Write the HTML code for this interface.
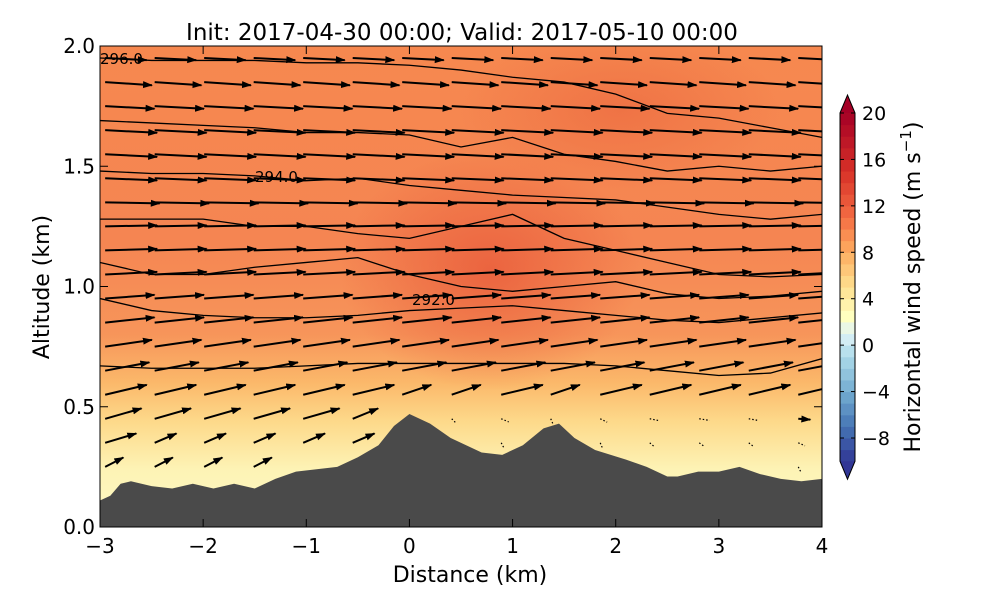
<!DOCTYPE html>
<html><head><meta charset="utf-8"><style>
body{margin:0;background:#fff;font-family:"Liberation Sans","DejaVu Sans",sans-serif}
svg text{font-family:"DejaVu Sans","Liberation Sans",sans-serif}
</style></head><body>
<svg id="c" width="1000" height="600" xmlns="http://www.w3.org/2000/svg">
<defs>
<linearGradient id="bg" x1="0" y1="1" x2="0" y2="0">
<stop offset="0" stop-color="#fdf9c4"/>
<stop offset="0.12" stop-color="#fdf3b5"/>
<stop offset="0.22" stop-color="#fdd98a"/>
<stop offset="0.30" stop-color="#fbb86a"/>
<stop offset="0.40" stop-color="#f7955a"/>
<stop offset="0.6" stop-color="#f58552"/>
<stop offset="1" stop-color="#f6884f"/>
</linearGradient>
<radialGradient id="blob" cx="0.5" cy="0.5" r="0.5">
<stop offset="0" stop-color="#e85a3a" stop-opacity="0.8"/>
<stop offset="1" stop-color="#e85a3a" stop-opacity="0"/>
</radialGradient>
<radialGradient id="blob2" cx="0.5" cy="0.5" r="0.5">
<stop offset="0" stop-color="#ec6a40" stop-opacity="0.7"/>
<stop offset="1" stop-color="#ec6a40" stop-opacity="0"/>
</radialGradient>
<clipPath id="pc"><rect x="100" y="46" width="722" height="481"/></clipPath>
<marker id="ah" markerWidth="10" markerHeight="8" refX="9" refY="4" orient="auto" markerUnits="userSpaceOnUse"><path d="M0,0.5 L10,4 L0,7.5 z" fill="#000"/></marker>
</defs>
<text x="462" y="40" font-size="23" text-anchor="middle">Init: 2017-04-30 00:00; Valid: 2017-05-10 00:00</text>
<g clip-path="url(#pc)" id="plot">
<rect x="100" y="46" width="722" height="481" fill="url(#bg)"/>
<ellipse cx="490" cy="270" rx="150" ry="120" fill="url(#blob)"/>
<ellipse cx="620" cy="110" rx="160" ry="80" fill="url(#blob2)"/>
<g id="contours"></g>
<g id="arrows"></g>
<path id="terrain" fill="#4a4a4a"/>
</g>
<rect x="100" y="46" width="722" height="481" fill="none" stroke="#000" stroke-width="1"/>
<g id="axes"></g>
<g id="cbar"></g>
<text x="470" y="582" font-size="22" text-anchor="middle">Distance (km)</text>
<text transform="translate(49,287) rotate(-90)" font-size="22" text-anchor="middle">Altitude (km)</text>
<text transform="translate(920,287) rotate(-90)" font-size="22" text-anchor="middle">Horizontal wind speed (m s<tspan baseline-shift="super" font-size="15">−1</tspan>)</text>
</svg>
<script>
const xTicks=[-3,-2,-1,0,1,2,3,4];
const yTicks=[0.0,0.5,1.0,1.5,2.0];
const cbTicks=[20,16,12,8,4,0,-4,-8];
const terrX=[-3,-2.9,-2.8,-2.7,-2.5,-2.3,-2.1,-1.9,-1.7,-1.5,-1.3,-1.1,-0.9,-0.7,-0.5,-0.3,-0.15,0,0.2,0.4,0.7,0.9,1.1,1.3,1.45,1.6,1.8,2.1,2.3,2.5,2.6,2.8,3.0,3.2,3.4,3.6,3.8,4];
const terrZ=[0.11,0.13,0.18,0.19,0.17,0.16,0.18,0.16,0.18,0.16,0.2,0.23,0.24,0.25,0.29,0.34,0.42,0.47,0.43,0.37,0.31,0.3,0.34,0.41,0.43,0.37,0.32,0.28,0.25,0.21,0.21,0.23,0.23,0.25,0.22,0.2,0.19,0.2];
const contX=[-3,-2.5,-2,-1.5,-1,-0.5,0,0.5,1,1.5,2,2.5,3,3.5,4];
const cont1=[0.67,0.66,0.66,0.66,0.67,0.68,0.68,0.68,0.68,0.68,0.67,0.65,0.63,0.64,0.7];
const cont2=[0.95,0.9,0.88,0.87,0.87,0.88,0.9,0.91,0.92,0.9,0.88,0.86,0.85,0.87,0.89];
const cont3=[1.1,1.05,1.05,1.08,1.1,1.12,1.05,1.0,0.98,1.0,1.02,0.97,0.95,0.96,0.98];
const cont4=[1.28,1.28,1.28,1.25,1.25,1.22,1.2,1.25,1.3,1.2,1.15,1.1,1.05,1.04,1.05];
const cont5=[1.48,1.47,1.47,1.46,1.44,1.45,1.42,1.4,1.38,1.37,1.36,1.33,1.3,1.28,1.3];
const cont6=[1.69,1.68,1.67,1.66,1.64,1.64,1.63,1.58,1.62,1.55,1.52,1.48,1.5,1.48,1.5];
const cont7=[1.95,1.94,1.94,1.94,1.93,1.93,1.92,1.9,1.87,1.85,1.8,1.72,1.7,1.66,1.62];
const contLabels=["296.0","294.0","292.0"];
const rowZ=[0.25,0.35,0.45,0.55,0.65,0.75,0.85,0.95,1.05,1.15,1.25,1.35,1.45,1.55,1.65,1.75,1.85,1.95];
const rowU=[5,6,7,8,8.5,9,9.5,9.5,10,10,10,10.5,10,10,10,9.5,9,8];
const rowV=[1.8,1.8,2.0,1.9,1.6,1.3,1.0,0.7,0.5,0.3,0.2,-0.2,-0.4,-0.5,-0.5,-0.5,-0.6,-0.4];
const colX=[-2.95,-2.47,-1.99,-1.51,-1.03,-0.55,-0.07,0.41,0.89,1.37,1.85,2.33,2.81,3.29,3.77];
const X=v=>100+(v+3)*722/7, Y=v=>527-v*240.5;
const NS="http://www.w3.org/2000/svg";
function mk(t,a,p){const e=document.createElementNS(NS,t);for(const k in a)e.setAttribute(k,a[k]);p.appendChild(e);return e;}
function terrAt(x){for(let i=0;i<terrX.length-1;i++){if(x<=terrX[i+1]){const f=(x-terrX[i])/(terrX[i+1]-terrX[i]);return terrZ[i]+f*(terrZ[i+1]-terrZ[i]);}}return terrZ[terrZ.length-1];}
let d="M"+X(-3)+","+Y(0);terrX.forEach((x,i)=>d+=" L"+X(x)+","+Y(terrZ[i]));d+=" L"+X(4)+","+Y(0)+" Z";
document.getElementById('terrain').setAttribute('d',d);
const cg=document.getElementById('contours');
[cont1,cont2,cont3,cont4,cont5,cont6,cont7].forEach((c,j)=>{
 const p=mk('polyline',{points:contX.map((x,i)=>X(x)+","+Y(c[i])).join(" "),fill:"none",stroke:"#000","stroke-width":1.3},cg);
 
 
});
[[100,64],[255,182],[412,305]].forEach((p,i)=>{
 const t=mk('text',{x:p[0],y:p[1],"font-size":15},cg);t.textContent=contLabels[i];
 
 
});
const ag=document.getElementById('arrows');
rowZ.forEach((z,r)=>colX.forEach((x,c)=>{
 const tz=terrAt(x); if(z<tz+0.03) return;
 let u=rowU[r],v=rowV[r];
 if(x>-0.5&&x<3.9&&z<0.55){const f=Math.max(0,(z-tz)/0.3);u*=0.03+0.35*f;v=-1.2*(1-f);}
 else if(z<tz+0.2){u*=0.7;}
 const x1=X(x),y1=Y(z),x2=x1+u*5.2,y2=y1-v*5.2;
 const small=Math.hypot(x2-x1,y2-y1)<12;
 const l=mk('line',{x1:x1,y1:y1,x2:x2,y2:y2,stroke:"#000","stroke-width":small?1.2:2,"stroke-dasharray":small?"1.5,2":"none","marker-end":small?"none":"url(#ah)"},ag);
 
 
}));
const ax=document.getElementById('axes');
xTicks.forEach(t=>{const x=X(t);mk('line',{x1:x,y1:527,x2:x,y2:519,stroke:"#000"},ax);mk('line',{x1:x,y1:46,x2:x,y2:54,stroke:"#000"},ax);
 const e=mk('text',{x:x,y:553,"font-size":20,"text-anchor":"middle"},ax);e.textContent=(t<0?"−"+(-t):t);
 
 });
yTicks.forEach(t=>{const y=Y(t);mk('line',{x1:100,y1:y,x2:108,y2:y,stroke:"#000"},ax);mk('line',{x1:822,y1:y,x2:814,y2:y,stroke:"#000"},ax);
 const e=mk('text',{x:95,y:y+7,"font-size":20,"text-anchor":"end"},ax);e.textContent=t.toFixed(1);
 
 });
const cb=document.getElementById('cbar');
const anc=[[-10,[49,54,149]],[-7,[69,117,180]],[-4,[116,173,209]],[-1,[171,217,233]],[1,[224,243,248]],[2.5,[255,255,191]],[5,[254,224,144]],[8,[253,174,97]],[11,[244,109,67]],[15,[215,48,39]],[20,[165,0,38]]];
function col(v){for(let i=0;i<anc.length-1;i++){if(v<=anc[i+1][0]){const f=(v-anc[i][0])/(anc[i+1][0]-anc[i][0]);return "rgb("+anc[i][1].map((a,k)=>Math.round(a+f*(anc[i+1][1][k]-a))).join(",")+")";}}return "rgb(165,0,38)";}
const CY=v=>438-(v+8)*(325/28), cx0=840,cw=15;
for(let v=-10;v<20;v++){mk('rect',{x:cx0,y:CY(v+1),width:cw,height:CY(v)-CY(v+1)+0.5,fill:col(v+0.5)},cb);}
mk('path',{d:`M${cx0},${CY(20)} L${cx0+cw/2},${CY(20)-18} L${cx0+cw},${CY(20)} Z`,fill:col(20)},cb);
mk('path',{d:`M${cx0},${CY(-10)} L${cx0+cw/2},${CY(-10)+18} L${cx0+cw},${CY(-10)} Z`,fill:col(-10)},cb);
mk('path',{d:`M${cx0},${CY(20)} L${cx0+cw/2},${CY(20)-18} L${cx0+cw},${CY(20)} L${cx0+cw},${CY(-10)} L${cx0+cw/2},${CY(-10)+18} L${cx0},${CY(-10)} Z`,fill:"none",stroke:"#000"},cb);
cbTicks.forEach(t=>{const y=CY(t);mk('line',{x1:cx0,y1:y,x2:cx0+4,y2:y,stroke:"#000"},cb);mk('line',{x1:cx0+cw,y1:y,x2:cx0+cw-4,y2:y,stroke:"#000"},cb);
 const e=mk('text',{x:862,y:y+7,"font-size":19},cb);e.textContent=(t<0?"−"+(-t):t);
 
 });
</script>
</body></html>
